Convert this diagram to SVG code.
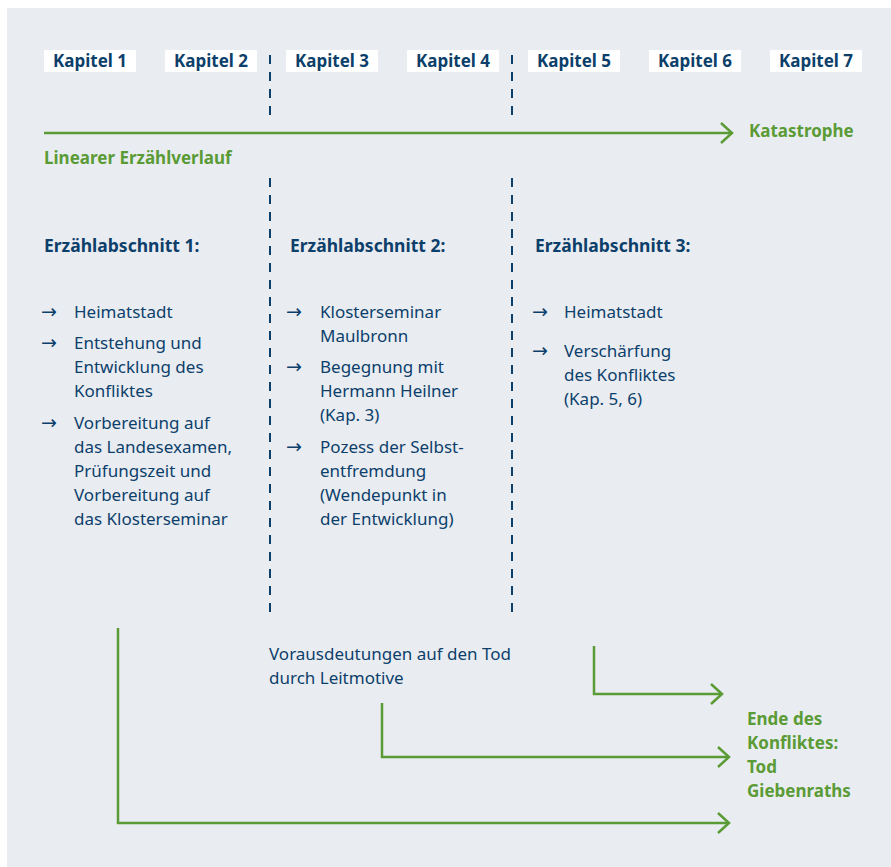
<svg xmlns="http://www.w3.org/2000/svg" width="891" height="867" viewBox="0 0 891 867">
<defs>
<style>
.bg{fill:#e9edf2}
.kbox{fill:#ffffff}
.kt{font-family:"Noto Sans","Open Sans",sans-serif;font-weight:bold;font-size:17px;fill:#0d3f6b;text-anchor:middle}
.hd{font-family:"Noto Sans","Open Sans",sans-serif;font-weight:bold;font-size:17.5px;fill:#0d3f6b}
.tx{font-family:"Noto Sans","Open Sans",sans-serif;font-size:17px;fill:#0d3f6b}
.ar{font-family:"DejaVu Sans",sans-serif;font-size:19px;fill:#0d3f6b}
.gt{font-family:"Noto Sans","Open Sans",sans-serif;font-weight:bold;font-size:17px;fill:#5b9b36}
.dash{stroke:#0d3f6b;stroke-width:2;stroke-dasharray:9 8;fill:none}
.gl{stroke:#5b9b36;stroke-width:2.5;fill:none}
</style>
<marker id="chev" markerUnits="userSpaceOnUse" markerWidth="16" markerHeight="24" refX="13" refY="12" orient="auto" viewBox="0 0 16 24">
<path d="M2,2 L13,12 L2,22" fill="none" stroke="#5b9b36" stroke-width="2.5"/>
</marker>
</defs>
<rect class="bg" x="7" y="8" width="884" height="859"/>

<g id="kapitel">
<g id="kap1"><rect class="kbox" x="44" y="50" width="92" height="22"/><text class="kt" x="90" y="67">Kapitel 1</text></g>
<g id="kap2"><rect class="kbox" x="165" y="50" width="92" height="22"/><text class="kt" x="211" y="67">Kapitel 2</text></g>
<g id="kap3"><rect class="kbox" x="286" y="50" width="92" height="22"/><text class="kt" x="332" y="67">Kapitel 3</text></g>
<g id="kap4"><rect class="kbox" x="407" y="50" width="92" height="22"/><text class="kt" x="453" y="67">Kapitel 4</text></g>
<g id="kap5"><rect class="kbox" x="528" y="50" width="92" height="22"/><text class="kt" x="574" y="67">Kapitel 5</text></g>
<g id="kap6"><rect class="kbox" x="649" y="50" width="92" height="22"/><text class="kt" x="695" y="67">Kapitel 6</text></g>
<g id="kap7"><rect class="kbox" x="770" y="50" width="92" height="22"/><text class="kt" x="816" y="67">Kapitel 7</text></g>
</g>

<g id="dividers">
<line class="dash" x1="270" y1="55" x2="270" y2="118"/>
<line class="dash" x1="512" y1="55" x2="512" y2="118"/>
<line class="dash" x1="270" y1="178" x2="270" y2="616"/>
<line class="dash" x1="512" y1="178" x2="512" y2="616"/>
</g>

<g id="connectors">
<line class="gl" x1="44" y1="133" x2="732" y2="133" marker-end="url(#chev)"/>
<polyline class="gl" points="594,646 594,694 722,694" marker-end="url(#chev)"/>
<polyline class="gl" points="382,703 382,757 729,757" marker-end="url(#chev)"/>
<polyline class="gl" points="118,628 118,823 729,823" marker-end="url(#chev)"/>
</g>

<g id="katastrophe"><text class="gt" x="749" y="137">Katastrophe</text></g>
<g id="linear"><text class="gt" x="44" y="164">Linearer Erzählverlauf</text></g>

<g id="abschnitt1">
<text class="hd" x="44" y="252">Erzählabschnitt 1:</text>
<text class="ar" x="41" y="318">→</text>
<text class="tx" x="74" y="318">Heimatstadt</text>
<text class="ar" x="41" y="349">→</text>
<text class="tx" x="74" y="349">Entstehung und</text>
<text class="tx" x="74" y="373">Entwicklung des</text>
<text class="tx" x="74" y="397">Konfliktes</text>
<text class="ar" x="41" y="429">→</text>
<text class="tx" x="74" y="429">Vorbereitung auf</text>
<text class="tx" x="74" y="453">das Landesexamen,</text>
<text class="tx" x="74" y="477">Prüfungszeit und</text>
<text class="tx" x="74" y="501">Vorbereitung auf</text>
<text class="tx" x="74" y="525">das Klosterseminar</text>
</g>

<g id="abschnitt2">
<text class="hd" x="290" y="252">Erzählabschnitt 2:</text>
<text class="ar" x="286" y="318">→</text>
<text class="tx" x="320" y="318">Klosterseminar</text>
<text class="tx" x="320" y="342">Maulbronn</text>
<text class="ar" x="286" y="373">→</text>
<text class="tx" x="320" y="373">Begegnung mit</text>
<text class="tx" x="320" y="397">Hermann Heilner</text>
<text class="tx" x="320" y="421">(Kap. 3)</text>
<text class="ar" x="286" y="453">→</text>
<text class="tx" x="320" y="453">Pozess der Selbst-</text>
<text class="tx" x="320" y="477">entfremdung</text>
<text class="tx" x="320" y="501">(Wendepunkt in</text>
<text class="tx" x="320" y="525">der Entwicklung)</text>
</g>

<g id="abschnitt3">
<text class="hd" x="535" y="252">Erzählabschnitt 3:</text>
<text class="ar" x="532" y="318">→</text>
<text class="tx" x="564" y="318">Heimatstadt</text>
<text class="ar" x="532" y="357">→</text>
<text class="tx" x="564" y="357">Verschärfung</text>
<text class="tx" x="564" y="381">des Konfliktes</text>
<text class="tx" x="564" y="405">(Kap. 5, 6)</text>
</g>

<g id="vorausdeutungen">
<text class="tx" x="269" y="660">Vorausdeutungen auf den Tod</text>
<text class="tx" x="269" y="684">durch Leitmotive</text>
</g>

<g id="ende">
<text class="gt" x="747" y="725">Ende des</text>
<text class="gt" x="747" y="749">Konfliktes:</text>
<text class="gt" x="747" y="773">Tod</text>
<text class="gt" x="747" y="797">Giebenraths</text>
</g>
</svg>
